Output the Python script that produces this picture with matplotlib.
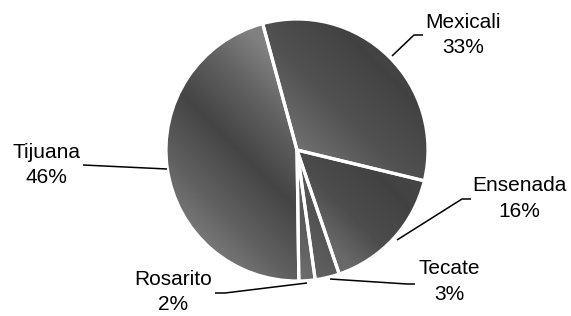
import numpy as np
import matplotlib
matplotlib.use("Agg")
import matplotlib.pyplot as plt

# ---- data ----
labels = ["Mexicali", "Ensenada", "Tecate", "Rosarito", "Tijuana"]
values = [33, 16, 3, 2, 46]
pct_labels = ["33%", "16%", "3%", "2%", "46%"]

W, H = 571, 316
CX, CY, R = 297, 150, 131.0

fig = plt.figure(figsize=(W / 100, H / 100), dpi=100)
ax = fig.add_axes([0, 0, 1, 1])
ax.set_axis_off()

def P(px, py):
    """pixel position -> data coords (pie radius 1 at center)"""
    return ((px - CX) / R, (CY - py) / R)

wedges, _ = ax.pie(values, startangle=105.2, counterclock=False,
                   radius=1.0, center=(0, 0),
                   wedgeprops=dict(facecolor="none", edgecolor="white",
                                   linewidth=2.3, zorder=3))
ax.set_xlim(-CX / R, (W - CX) / R)
ax.set_ylim(-(H - CY) / R, CY / R)
ax.set_aspect("auto")

# gradient profiles (diagonal-up direction across each wedge's bbox)
profiles = {
    "Mexicali": ([0, 0.22, 0.45, 0.7, 1], [0.45, 0.43, 0.32, 0.26, 0.29]),
    "Ensenada": ([0, 0.25, 0.45, 0.7, 1], [0.43, 0.41, 0.30, 0.26, 0.28]),
    "Tecate": ([0, 0.5, 1], [0.40, 0.32, 0.42]),
    "Rosarito": ([0, 0.5, 1], [0.44, 0.34, 0.46]),
    "Tijuana": ([0, 0.12, 0.32, 0.52, 0.7, 0.85, 1],
                [0.54, 0.52, 0.38, 0.27, 0.38, 0.50, 0.50]),
}

for w, lab in zip(wedges, labels):
    th = np.radians(np.linspace(w.theta1, w.theta2, 200))
    xs = np.concatenate([[0], np.cos(th)])
    ys = np.concatenate([[0], np.sin(th)])
    x0, x1, y0, y1 = xs.min(), xs.max(), ys.min(), ys.max()
    gx, gy = np.meshgrid(np.linspace(x0, x1, 200), np.linspace(y0, y1, 200))
    t = ((gx - x0) + (gy - y0)) / ((x1 - x0) + (y1 - y0))
    st, vals = profiles[lab]
    img = np.interp(t, st, vals)
    im = ax.imshow(img, cmap="gray", vmin=0, vmax=1, origin="lower",
                   extent=(x0, x1, y0, y1), interpolation="bilinear",
                   zorder=1, aspect="auto")
    im.set_clip_path(w)

ax.set_xlim(-CX / R, (W - CX) / R)
ax.set_ylim(-(H - CY) / R, CY / R)

# leader lines (pixel coords)
leaders = {
    "Mexicali": [(392, 56), (414, 35), (423, 35)],
    "Ensenada": [(397, 240), (462, 199), (471, 199)],
    "Tecate": [(330, 279), (407, 284), (415, 284)],
    "Rosarito": [(307, 283), (225, 293), (215, 293)],
    "Tijuana": [(167, 169), (83, 165)],
}
text_pos = {
    "Mexicali": (463, 35),
    "Ensenada": (519, 198.5),
    "Tecate": (449, 281.5),
    "Rosarito": (173, 292),
    "Tijuana": (46.5, 165),
}
for lab, pct in zip(labels, pct_labels):
    pts = [P(*p) for p in leaders[lab]]
    ax.plot([p[0] for p in pts], [p[1] for p in pts], color="black",
            lw=1.1, zorder=4, solid_capstyle="butt")
    tx, ty = P(*text_pos[lab])
    ax.text(tx, ty, f"{lab}\n{pct}", ha="center", va="center",
            fontsize=15, family=["Liberation Sans", "DejaVu Sans"],
            linespacing=1.45, zorder=5)

fig.savefig("out.png", dpi=100)
